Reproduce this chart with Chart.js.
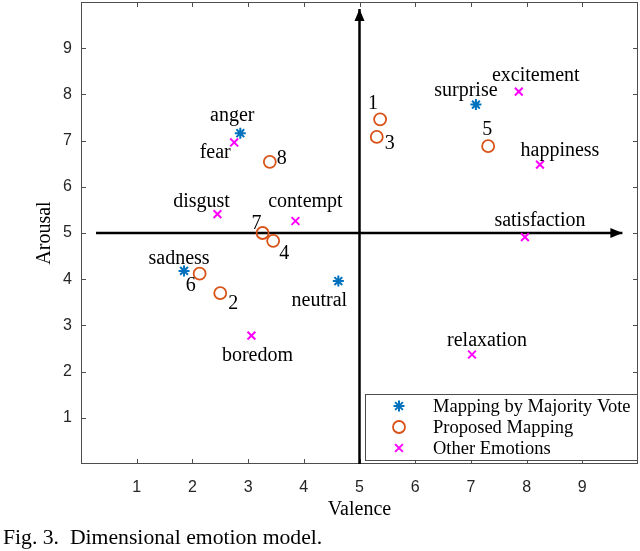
<!DOCTYPE html>
<html>
<head>
<meta charset="utf-8">
<script src="https://cdn.jsdelivr.net/npm/chart.js@4.4.0/dist/chart.umd.min.js"></script>
<style>
  html, body { margin: 0; padding: 0; background: #fff; }
  #wrap { position: relative; width: 640px; height: 551px; }
  #caption { position: absolute; left: 3px; top: 525px; font: 21.7px 'Liberation Serif', serif; white-space: pre; color: #000; }
</style>
</head>
<body>
<div id="wrap">
  <canvas id="emotionChart" width="640" height="551"></canvas>
  <div id="caption">Fig. 3.  Dimensional emotion model.</div>
</div>
<script>
// --- data ---
const majorityNames = ['anger', 'sadness', 'neutral', 'surprise'];
const majorityValence = [2.86, 1.85, 4.62, 7.09];
const majorityArousal = [7.16, 4.18, 3.96, 7.78];

const proposedNames = ['1', '2', '3', '4', '5', '6', '7', '8'];
const proposedValence = [5.37, 2.50, 5.31, 3.45, 7.31, 2.13, 3.26, 3.39];
const proposedArousal = [7.46, 3.70, 7.08, 4.83, 6.88, 4.12, 5.00, 6.54];

const otherNames = ['fear', 'disgust', 'contempt', 'boredom', 'excitement', 'happiness', 'satisfaction', 'relaxation'];
const otherValence = [2.75, 2.45, 3.85, 3.06, 7.86, 8.24, 7.97, 7.02];
const otherArousal = [6.96, 5.41, 5.26, 2.78, 8.06, 6.48, 4.91, 2.37];

// the two axis arrows (valence / arousal)
const valenceArrowX = [0.27, 9.72];
const valenceArrowY = [5, 5];
const arousalArrowX = [5, 5];
const arousalArrowY = [0, 9.85];

const tickValues = [1, 2, 3, 4, 5, 6, 7, 8, 9];

const legendLabels = ['Mapping by Majority Vote', 'Proposed Mapping', 'Other Emotions'];

// where each text label sits relative to its marker (px, baseline)
const labelOffsets = {
  anger: [-8, -12], sadness: [-5, -7], neutral: [-19, 25], surprise: [-10, -9],
  '1': [-7, -10], '2': [13, 16], '3': [13, 12], '4': [11, 18],
  '5': [-1, -11], '6': [-9, 17], '7': [-6, -4], '8': [12, 2],
  fear: [-19, 16], disgust: [-16, -7], contempt: [10, -14], boredom: [6, 25],
  excitement: [17, -11], happiness: [20, -9], satisfaction: [15, -11], relaxation: [15, -9]
};

const toPoints = (xs, ys) => xs.map((x, i) => ({ x, y: ys[i] }));
const keepTicks = s => { s.ticks = s.ticks.filter(t => tickValues.includes(t.value)); };

const serif = "'Liberation Serif', 'Times New Roman', serif";
const sans = "'Liberation Sans', Arial, sans-serif";

const boxPlugin = {
  id: 'boxPlugin',
  beforeDatasetsDraw(chart) {
    const { ctx, chartArea: a, scales: { x, y } } = chart;
    ctx.save();
    ctx.strokeStyle = '#4d4d4d';
    ctx.lineWidth = 1;
    ctx.strokeRect(a.left + 0.5, a.top + 0.5, a.right - a.left - 1, a.bottom - a.top - 1);
    ctx.beginPath();
    tickValues.forEach(v => {
      const px = Math.round(x.getPixelForValue(v)) + 0.5;
      ctx.moveTo(px, a.bottom); ctx.lineTo(px, a.bottom - 5);
      ctx.moveTo(px, a.top); ctx.lineTo(px, a.top + 5);
      const py = Math.round(y.getPixelForValue(v)) + 0.5;
      ctx.moveTo(a.left, py); ctx.lineTo(a.left + 5, py);
      ctx.moveTo(a.right, py); ctx.lineTo(a.right - 5, py);
    });
    ctx.stroke();
    ctx.restore();
  }
};

const arrowPlugin = {
  id: 'arrowPlugin',
  afterDatasetsDraw(chart) {
    const ctx = chart.ctx;
    chart.data.datasets.forEach((ds, i) => {
      if (!ds.arrow) return;
      const pts = chart.getDatasetMeta(i).data;
      const p0 = pts[pts.length - 2], p1 = pts[pts.length - 1];
      const ang = Math.atan2(p1.y - p0.y, p1.x - p0.x);
      const len = 12, half = 5;
      ctx.save();
      ctx.translate(p1.x, p1.y);
      ctx.rotate(ang);
      ctx.fillStyle = '#000';
      ctx.beginPath();
      ctx.moveTo(0, 0);
      ctx.lineTo(-len, -half);
      ctx.lineTo(-len, half);
      ctx.closePath();
      ctx.fill();
      ctx.restore();
    });
  }
};

const textPlugin = {
  id: 'textPlugin',
  afterDatasetsDraw(chart) {
    const ctx = chart.ctx;
    ctx.save();
    ctx.font = '20px ' + serif;
    ctx.fillStyle = '#000';
    ctx.textAlign = 'center';
    ctx.textBaseline = 'alphabetic';
    chart.data.datasets.forEach((ds, i) => {
      if (!ds.names) return;
      chart.getDatasetMeta(i).data.forEach((el, j) => {
        const name = ds.names[j];
        const off = labelOffsets[name] || [0, -10];
        ctx.fillText(name, el.x + off[0], el.y + off[1]);
      });
    });
    ctx.restore();
  }
};

const legendPlugin = {
  id: 'boxLegend',
  afterDraw(chart) {
    const { ctx, chartArea: a } = chart;
    const w = 273, h = 67;
    const left = a.right - w, top = a.bottom - 3 - h;
    ctx.save();
    ctx.fillStyle = '#fff';
    ctx.fillRect(left, top, w, h);
    ctx.strokeStyle = '#4d4d4d';
    ctx.lineWidth = 1;
    ctx.strokeRect(left + 0.5, top + 0.5, w - 1, h - 1);
    ctx.font = '18.5px ' + serif;
    ctx.textAlign = 'left';
    ctx.textBaseline = 'middle';
    const scatterSets = chart.data.datasets.filter(d => d.names);
    scatterSets.forEach((ds, k) => {
      const cy = top + 12 + k * 21;
      ctx.strokeStyle = ds.borderColor;
      ctx.fillStyle = 'rgba(0,0,0,0)';
      ctx.lineWidth = ds.borderWidth;
      if (Chart.helpers && Chart.helpers.drawPoint) {
        Chart.helpers.drawPoint(ctx, { pointStyle: ds.pointStyle, rotation: 0, radius: ds.pointRadius, borderWidth: ds.borderWidth }, left + 34, cy);
      }
      ctx.fillStyle = '#000';
      ctx.fillText(ds.label, left + 68, cy + 1);
    });
    ctx.restore();
  }
};

new Chart(document.getElementById('emotionChart'), {
  type: 'scatter',
  data: {
    datasets: [
      {
        label: legendLabels[0],
        names: majorityNames,
        data: toPoints(majorityValence, majorityArousal),
        pointStyle: 'star',
        pointRadius: 5.5,
        borderWidth: 2,
        borderColor: '#0072BD',
        backgroundColor: 'rgba(0,0,0,0)'
      },
      {
        label: legendLabels[1],
        names: proposedNames,
        data: toPoints(proposedValence, proposedArousal),
        pointStyle: 'circle',
        pointRadius: 6,
        borderWidth: 1.8,
        borderColor: '#D95319',
        backgroundColor: 'rgba(0,0,0,0)'
      },
      {
        label: legendLabels[2],
        names: otherNames,
        data: toPoints(otherValence, otherArousal),
        pointStyle: 'crossRot',
        pointRadius: 5.5,
        borderWidth: 2,
        borderColor: '#FF00FF',
        backgroundColor: 'rgba(0,0,0,0)'
      },
      {
        label: 'valence axis',
        arrow: true,
        data: toPoints(valenceArrowX, valenceArrowY),
        showLine: true,
        pointRadius: 0,
        borderColor: '#000',
        borderWidth: 2.5
      },
      {
        label: 'arousal axis',
        arrow: true,
        data: toPoints(arousalArrowX, arousalArrowY),
        showLine: true,
        pointRadius: 0,
        borderColor: '#000',
        borderWidth: 2.5
      }
    ]
  },
  options: {
    responsive: false,
    animation: false,
    layout: { autoPadding: false, padding: { top: 2, right: 2, left: 0, bottom: 0 } },
    plugins: {
      legend: { display: false },
      tooltip: { enabled: false }
    },
    scales: {
      x: {
        type: 'linear',
        min: 0,
        max: 10,
        afterBuildTicks: keepTicks,
        afterFit: s => { s.height = 87; s.paddingLeft = 0; s.paddingRight = 0; },
        ticks: {
          stepSize: 1,
          padding: 14,
          color: '#262626',
          font: { family: sans, size: 16 }
        },
        grid: { display: false, drawTicks: false },
        border: { display: false },
        title: {
          display: true,
          text: 'Valence',
          color: '#000',
          font: { family: serif, size: 20 },
          padding: { top: 0, bottom: 29 }
        }
      },
      y: {
        type: 'linear',
        min: 0,
        max: 10,
        afterBuildTicks: keepTicks,
        afterFit: s => { s.width = 81; s.paddingTop = 0; s.paddingBottom = 0; },
        ticks: {
          stepSize: 1,
          padding: 9,
          color: '#262626',
          font: { family: sans, size: 16 }
        },
        grid: { display: false, drawTicks: false },
        border: { display: false },
        title: {
          display: true,
          text: 'Arousal',
          color: '#000',
          font: { family: serif, size: 20 },
          padding: { top: 33, bottom: 0 }
        }
      }
    }
  },
  plugins: [boxPlugin, arrowPlugin, textPlugin, legendPlugin]
});
</script>
</body>
</html>
